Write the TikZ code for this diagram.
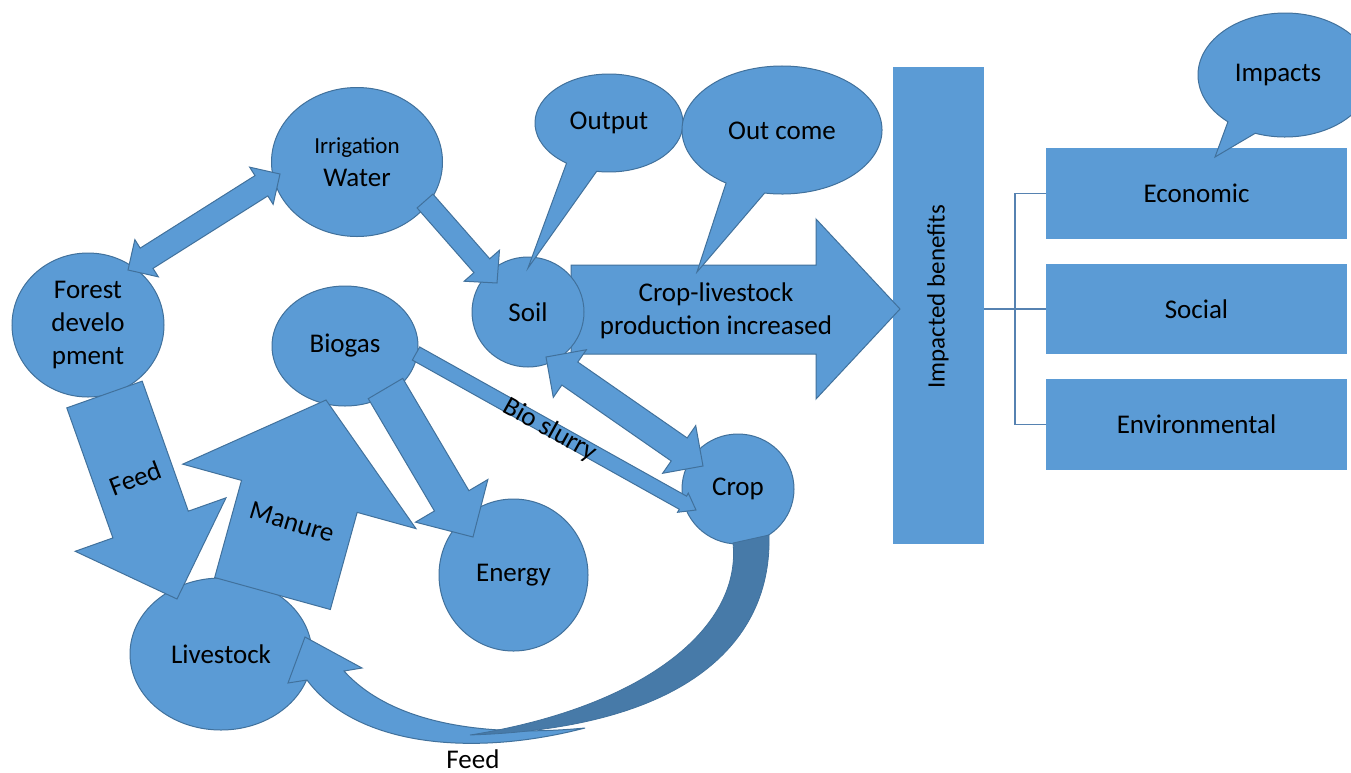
\documentclass[tikz,border=0pt]{standalone}
\usepackage{fontspec}
\setmainfont{Carlito}
\usetikzlibrary{calc,shapes.geometric}

\definecolor{fillblue}{HTML}{5B9BD5}
\definecolor{edgeblue}{HTML}{41719C}
\definecolor{backblue}{HTML}{477AA8}
\definecolor{linkblue}{HTML}{5682B1}

\tikzset{
  txt/.style={font=\fontsize{27}{33}\selectfont, align=center, inner sep=0pt},
  bubble/.style={ellipse, fill=fillblue, draw=edgeblue, line width=1pt, inner sep=0pt, txt},
  panel/.style={rectangle, fill=fillblue, inner sep=0pt, txt},
  blockarrow/.style={fill=fillblue, draw=edgeblue, line width=1pt, line join=miter},
  callout/.style={fill=fillblue, draw=edgeblue, line width=1pt, line join=miter},
  backface/.style={fill=backblue, draw=edgeblue, line width=0.8pt},
  link/.style={draw=linkblue, line width=1.5pt},
}

% straight block arrow: #1 tail, #2 tip, #3 half shaft, #4 half head, #5 head length
\newcommand\singleblock[5]{%
  \path ($(#2)!#5!(#1)$) coordinate (hb);
  \draw[blockarrow] ($(#1)!#3!90:(#2)$) -- ($(hb)!#3!-90:(#1)$) -- ($(hb)!#4!-90:(#1)$)
     -- (#2) -- ($(hb)!#4!90:(#1)$) -- ($(hb)!#3!90:(#1)$) -- ($(#1)!#3!-90:(#2)$) -- cycle;}

% two-headed block arrow between #1 and #2
\newcommand\doubleblock[5]{%
  \path ($(#1)!#5!(#2)$) coordinate (ha) ($(#2)!#5!(#1)$) coordinate (hb);
  \draw[blockarrow] (#1) -- ($(ha)!#4!90:(#2)$) -- ($(ha)!#3!90:(#2)$) -- ($(hb)!#3!-90:(#1)$)
     -- ($(hb)!#4!-90:(#1)$) -- (#2) -- ($(hb)!#4!90:(#1)$) -- ($(hb)!#3!90:(#1)$)
     -- ($(ha)!#3!-90:(#2)$) -- ($(ha)!#4!-90:(#2)$) -- cycle;}

\begin{document}
\begin{tikzpicture}[x=1pt,y=-1pt]
\clip (0,0) rectangle (1351,772);
\fill[white] (0,0) rectangle (1351,772);

% ---- benefits column ----
\node[panel, minimum width=91pt, minimum height=477pt] (ib) at (938.5,305.5) {};
\node[txt, rotate=90, font=\fontsize{25}{30}\selectfont] (ibt) at (938,297) {Impacted benefits};
\node[panel, minimum width=301pt, minimum height=91pt] (eco) at (1196.5,193.5) {Economic};
\node[panel, minimum width=301pt, minimum height=90pt] (soc) at (1196.5,309) {Social};
\node[panel, minimum width=301pt, minimum height=91pt] (env) at (1196.5,424.5) {Environmental};
\draw[link] (soc.west) -- (soc.west -| ib.east);
\draw[link] (eco.west) -- ++(-31,0) |- (env.west);

% ---- production arrow (behind Soil) ----
\draw[blockarrow] (571,265) -- (816,265) -- (816,219) -- (900,309) -- (816,399)
  -- (816,354) -- (571,354) -- cycle;
\node[txt] (prod) at (716,311) {Crop-livestock\\production increased};

% ---- circles ----
\node[bubble, minimum width=171pt, minimum height=149pt] (irr) at (357,162)
  {{\fontsize{23}{33}\selectfont Irrigation}\\Water};
\node[bubble, minimum width=152pt, minimum height=144pt] (forest) at (88,325)
  {Forest\\develo\\pment};
\node[bubble, minimum width=146pt, minimum height=120pt] (biogas) at (345,346) {Biogas};
\node[bubble, minimum width=112pt, minimum height=110pt] (soil) at (528,312) {Soil};
\node[bubble, minimum width=112pt, minimum height=110pt] (crop) at (738,489) {Crop};
\node[bubble, minimum width=149pt, minimum height=152pt] (energy) at (513.5,575) {Energy};
\node[bubble, minimum width=182pt, minimum height=152pt] (live) at (221,654) {Livestock};

% ---- block arrows ----
\coordinate (fi-a) at (128,270);   \coordinate (fi-b) at (280,174);
\doubleblock{fi-a}{fi-b}{12pt}{22pt}{22pt}
\coordinate (is-a) at (425,201);   \coordinate (is-b) at (497,283);
\singleblock{is-a}{is-b}{10.5pt}{23.5pt}{23pt}
\coordinate (sc-a) at (546,357);   \coordinate (sc-b) at (703,466);
\doubleblock{sc-a}{sc-b}{14pt}{29pt}{29pt}
\coordinate (bc-a) at (416,353.5); \coordinate (bc-b) at (696,510);
\singleblock{bc-a}{bc-b}{7.5pt}{11pt}{15pt}
\coordinate (be-a) at (385.5,388.5); \coordinate (be-b) at (473,537);
\singleblock{be-a}{be-b}{20pt}{42pt}{42pt}
\coordinate (fl-a) at (104.5,394.5); \coordinate (fl-b) at (177,599);
\singleblock{fl-a}{fl-b}{40pt}{80pt}{79pt}
\coordinate (lb-a) at (272.5,593.5); \coordinate (lb-b) at (326,400);
\singleblock{lb-a}{lb-b}{60pt}{121pt}{100pt}

\node[txt, rotate=21] (feedlbl) at (135,478) {Feed};
\node[txt, rotate=-17] (manlbl) at (292,522) {Manure};
\node[txt, rotate=-29] (slurlbl) at (550,430) {Bio slurry};

% ---- curved feed arrow from Crop back to Livestock ----
\draw[blockarrow] (307,680) .. controls (355,745) and (470,758) .. (585,728)
  .. controls (480,738) and (390,722) .. (344,671)
  -- (362,668) -- (305,637) -- (288,683) -- cycle;
\draw[backface] (769,535) .. controls (772,640) and (690,728) .. (470,735)
  .. controls (640,708) and (742,630) .. (733,543) -- cycle;
\node[txt] (feedlbl2) at (473,759) {Feed};

% ---- speech bubbles ----
\draw[callout] (528,268) -- ($(609,123)+(125:74 and 49)$)
  arc[start angle=125, end angle=459.6, x radius=74, y radius=49] -- cycle;
\node[txt] (outp) at (609,123) {Output};
\draw[callout] (697,272) -- ($(782,130)+(124:100 and 64)$)
  arc[start angle=124, end angle=460, x radius=100, y radius=64] -- cycle;
\node[txt] (outc) at (782,131) {Out come};
\draw[callout] (1215,157) -- ($(1285,75)+(131:87 and 62)$)
  arc[start angle=131, end angle=470, x radius=87, y radius=62] -- cycle;
\node[txt] (imp) at (1278,75) {Impacts};
\end{tikzpicture}
\end{document}
